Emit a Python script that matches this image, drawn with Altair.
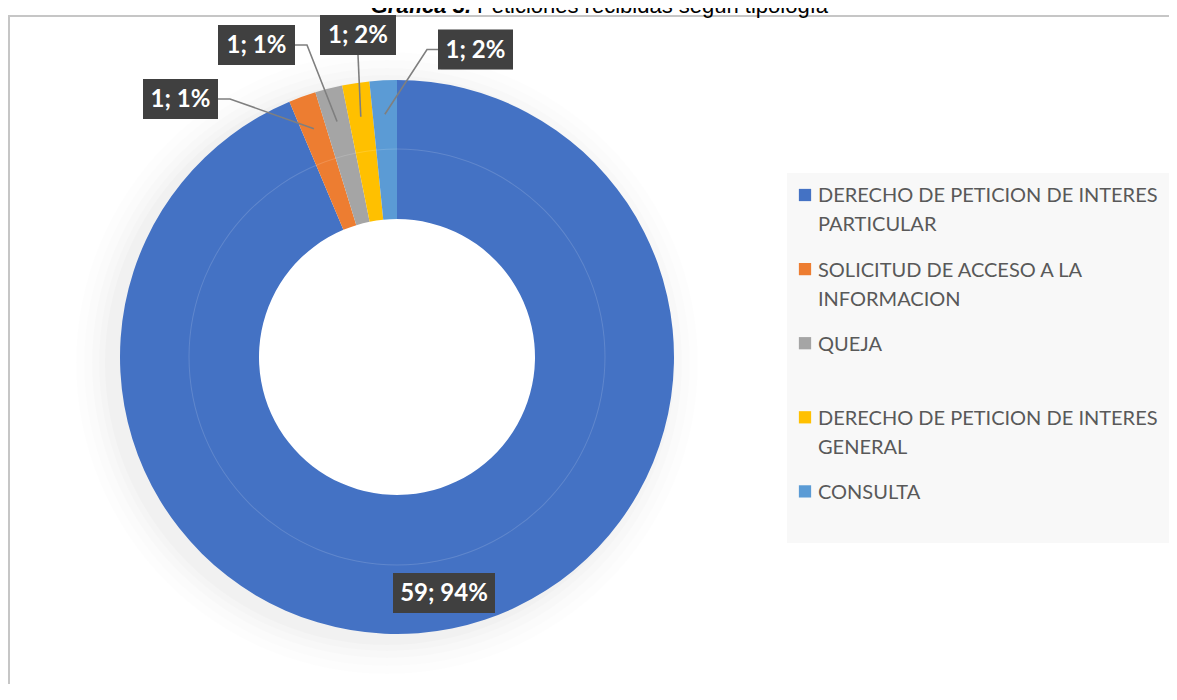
import math
import altair as alt
import pandas as pd

# ---------------- data ----------------
categories = [
    "DERECHO DE PETICION DE INTERES PARTICULAR",
    "SOLICITUD DE ACCESO A LA INFORMACION",
    "QUEJA",
    "DERECHO DE PETICION DE INTERES GENERAL",
    "CONSULTA",
]
counts = [59, 1, 1, 1, 1]
percent_labels = ["94%", "1%", "1%", "2%", "2%"]
legend_lines = [
    ["DERECHO DE PETICION DE INTERES", "PARTICULAR"],
    ["SOLICITUD DE ACCESO A LA", "INFORMACION"],
    ["QUEJA"],
    ["DERECHO DE PETICION DE INTERES", "GENERAL"],
    ["CONSULTA"],
]
title_bold = "Gráfica 3."
title_rest = "Peticiones recibidas según tipología"

# ---------------- styles / layout ----------------
colors = ["#4472C4", "#ED7D31", "#A5A5A5", "#FFC000", "#5B9BD5"]
W, H = 1161, 676
CX, CY = 389, 349          # pie centre (px)
R_OUT, R_IN = 277, 138
# data-label boxes: centre positions (px) and widths, like the manual Excel placement
label_box_x = [436, 172.5, 248.5, 350, 467.5]
label_box_y = [585, 91, 37, 27, 41.5]
label_box_w = [102, 75, 77, 76, 75]
label_box_h = 40
# leader side: 'r' right edge, 'l' left edge, 'b' bottom, None = no leader
leader_side = [None, "r", "r", "b", "l"]

X = alt.Scale(domain=[0, W], nice=False, zero=False)
Y = alt.Scale(domain=[0, H], nice=False, zero=False, reverse=True)


def ex(field):
    return alt.X(field, type="quantitative", scale=X, axis=None)


def ey(field):
    return alt.Y(field, type="quantitative", scale=Y, axis=None)


total = sum(counts)
rows = []
cum = 0
for i, (c, n) in enumerate(zip(categories, counts)):
    a0 = cum / total * 2 * math.pi
    cum += n
    a1 = cum / total * 2 * math.pi
    rows.append(dict(idx=i, cat=c, count=n, mid=(a0 + a1) / 2,
                     text=f"{n}; {percent_labels[i]}"))
df = pd.DataFrame(rows)

boxes = pd.DataFrame(dict(
    text=df["text"],
    bx=label_box_x, by=label_box_y, bw=label_box_w,
))
boxes["x0"] = boxes.bx - boxes.bw / 2
boxes["x1"] = boxes.bx + boxes.bw / 2
boxes["y0"] = boxes.by - label_box_h / 2
boxes["y1"] = boxes.by + label_box_h / 2

lines = []
R_LEAD = 243
for i, side in enumerate(leader_side):
    if side is None:
        continue
    b = boxes.iloc[i]
    px = CX + R_LEAD * math.sin(df.mid[i])
    py = CY - R_LEAD * math.cos(df.mid[i])
    if side == "r":
        pts = [(b.x1, b.by), (b.x1 + 12, b.by), (px, py)]
    elif side == "l":
        pts = [(b.x0, b.by), (b.x0 - 11, b.by), (px, py)]
    else:
        pts = [(b.bx, b.y1), (px, py)]
    for k, (x, y) in enumerate(pts):
        lines.append(dict(lid=i, k=k, x=x, y=y))
lines = pd.DataFrame(lines)

LEG_X, LEG_Y0, LEG_STEP = 797, 187, 74.1
FS_LEG = 20
legend_df = pd.DataFrame(dict(
    cat=categories,
    text=["\n".join(l) for l in legend_lines],
))
legend_df["sx"] = LEG_X
legend_df["sy"] = [LEG_Y0 + i * LEG_STEP for i in range(len(categories))]
legend_df["tx"] = LEG_X + 13
legend_df["ty"] = legend_df["sy"] + 0.37 * FS_LEG

color_scale = alt.Scale(domain=categories, range=colors)

# ---------------- layers ----------------
base_one = pd.DataFrame({"a": [0]})

border = alt.Chart(base_one).mark_rect(
    fill=None, stroke="#c6c6c6", strokeWidth=2
).encode(x=alt.value(1), x2=alt.value(W + 30), y=alt.value(8), y2=alt.value(H + 30))

shadow_layers = []
for k, op in [(34, 0.006), (26, 0.008), (18, 0.010), (11, 0.012), (5, 0.015)]:
    shadow_layers.append(
        alt.Chart(base_one).mark_arc(
            radius=R_OUT + k, radius2=R_OUT - 40, theta=0, theta2=2 * math.pi,
            color="#000000", opacity=op
        ).encode(x=alt.value(CX - 10), y=alt.value(CY + 6))
    )

pie = alt.Chart(df).mark_arc(radius=R_OUT, radius2=R_IN).encode(
    theta=alt.Theta("count:Q", stack=True),
    color=alt.Color("cat:N", scale=color_scale, legend=None),
    order=alt.Order("idx:Q"),
    x=alt.value(CX), y=alt.value(CY),
)

ring = alt.Chart(base_one).mark_arc(
    radius=208.5, radius2=207.5, theta=0, theta2=2 * math.pi,
    color="#ffffff", opacity=0.15
).encode(x=alt.value(CX), y=alt.value(CY))

leaders = alt.Chart(lines).mark_line(color="#7f7f7f", strokeWidth=1.6).encode(
    x=ex("x"), y=ey("y"), detail="lid:N", order="k:Q"
)

box_shadow = alt.Chart(boxes).mark_rect(color="#000000", opacity=0.15).encode(
    x=ex("x0"), x2=alt.X2("x1"), y=ey("y0"), y2=alt.Y2("y1"),
    xOffset=alt.value(3), yOffset=alt.value(3),
)

box_rects = alt.Chart(boxes).mark_rect(color="#404040").encode(
    x=ex("x0"), x2=alt.X2("x1"), y=ey("y0"), y2=alt.Y2("y1")
)

box_text = alt.Chart(boxes).mark_text(
    font="Lato", fontWeight="bold", fontSize=24, color="#ffffff",
    baseline="middle", align="center", dy=1
).encode(x=ex("bx"), y=ey("by"), text="text:N")

legend_bg = alt.Chart(base_one).mark_rect(color="#f8f8f8").encode(
    x=alt.value(779), x2=alt.value(1164), y=alt.value(165), y2=alt.value(535)
)

legend_sym = alt.Chart(legend_df).mark_square(size=150, opacity=1).encode(
    x=ex("sx"), y=ey("sy"),
    color=alt.Color("cat:N", scale=color_scale, legend=None),
)

legend_txt = alt.Chart(legend_df).mark_text(
    font="Lato", fontSize=FS_LEG, color="#595959", align="left",
    baseline="alphabetic", lineBreak="\n", lineHeight=29
).encode(x=ex("tx"), y=ey("ty"), text="text:N")

title1 = alt.Chart(base_one).mark_text(
    text=title_bold, font="Liberation Sans", fontSize=22,
    fontWeight="bold", fontStyle="italic", color="#000000",
    align="right", baseline="alphabetic"
).encode(x=alt.value(463), y=alt.value(5))

title2 = alt.Chart(base_one).mark_text(
    text=title_rest, font="Liberation Sans", fontSize=22, color="#000000",
    align="left", baseline="alphabetic"
).encode(x=alt.value(469), y=alt.value(5))

chart = alt.layer(
    border, *shadow_layers, pie, ring, leaders, box_shadow, box_rects, box_text,
    legend_bg, legend_sym, legend_txt, title1, title2
).properties(
    width=W, height=H,
    autosize=alt.AutoSizeParams(type="none"),
    padding=0,
).configure_view(stroke=None)

chart.save("out.html", embed_options={"renderer": "svg", "actions": False})
